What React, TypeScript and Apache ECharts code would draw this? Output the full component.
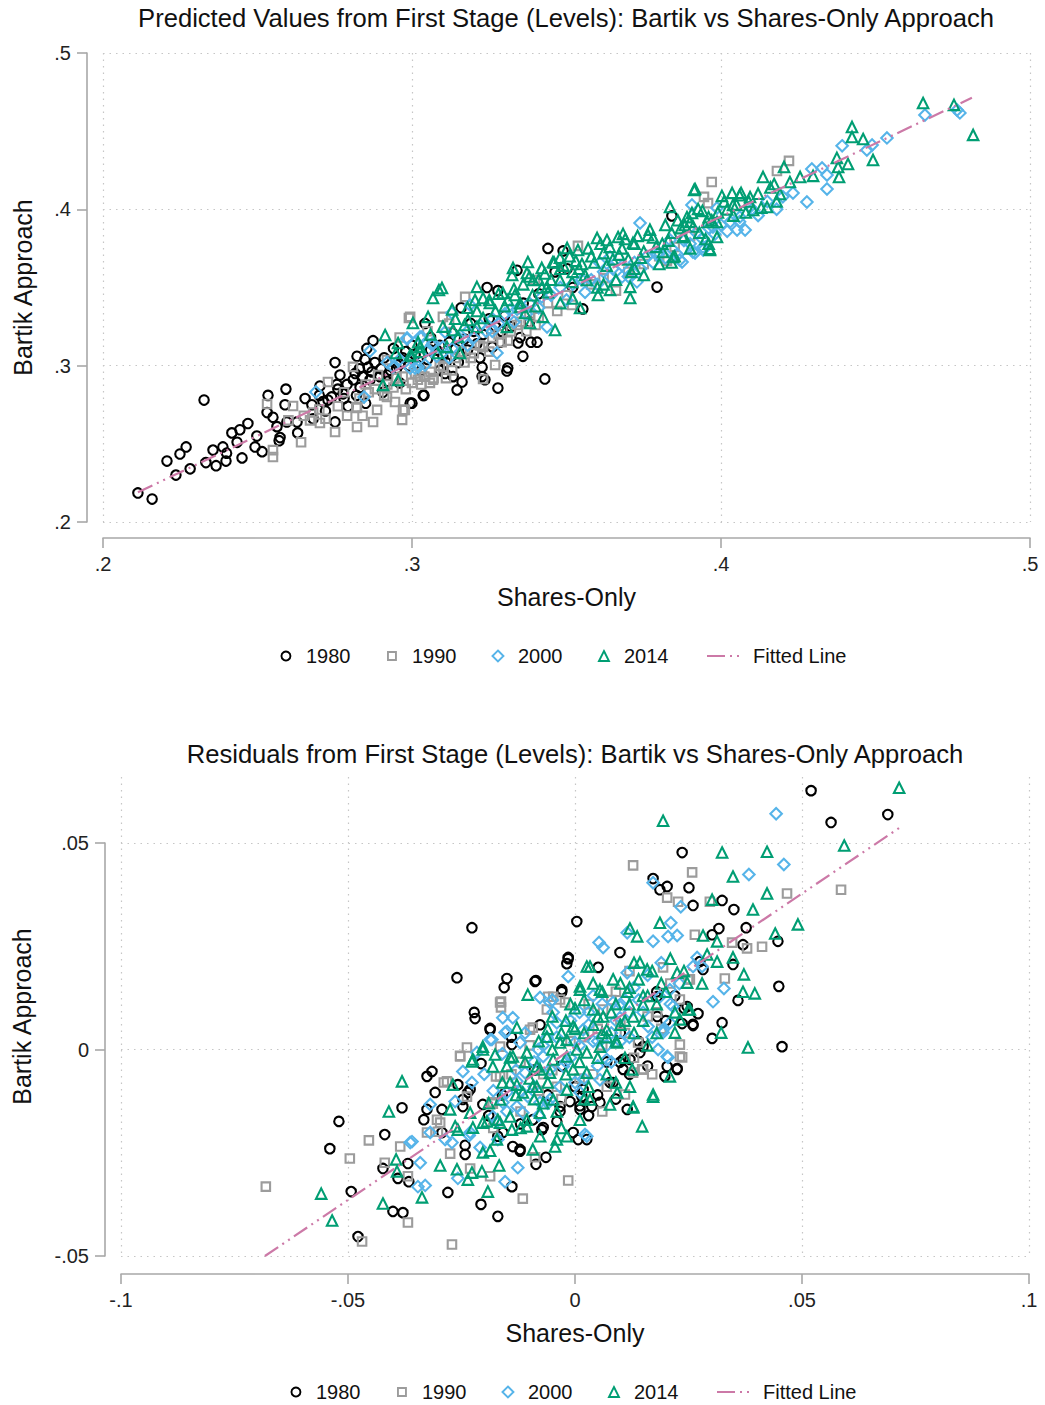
import React, { useEffect, useRef } from 'react';
import * as echarts from 'echarts';

const FONT = '"Liberation Sans", Arial, Helvetica, sans-serif';

// ---------- Top chart: predicted values (Shares-Only x, Bartik y) ----------
const top1980: number[][] = [
  [.2113,.2186],[.2159,.2147],[.2207,.239],[.2249,.2435],[.2269,.248],[.2236,.230],[.2282,.234],[.2327,.278],[.2333,.238],[.2366,.236],
  [.2356,.246],[.2388,.248],[.2398,.239],[.2417,.257],[.2434,.251],[.2443,.259],[.2469,.263],[.2492,.248],[.2515,.245],[.2498,.255],
  [.2534,.281],[.2531,.270],[.255,.267],[.2563,.261],[.2573,.254],[.2592,.285],[.2589,.275],[.2595,.264],[.2628,.264],[.2654,.279],
  [.2676,.275],[.2702,.287],[.2712,.277],[.2728,.278],[.2751,.302],[.2757,.288],[.2751,.264],[.2767,.294],[.2777,.282],[.2793,.274],
  [.2816,.295],[.2822,.306],[.2848,.304],[.2832,.286],[.2854,.311],[.2874,.316],[.2864,.291],[.2858,.299],[.2896,.293],[.2906,.283],
  [.2994,.276],[.3039,.281],[.3042,.327],[.344,.375],[.3489,.3734],[.334,.361],[.3463,.36],[.3502,.362],[.3243,.350],[.3278,.348],
  [.3159,.337],[.3285,.315],[.3343,.3145],[.3359,.306],[.3385,.315],[.3405,.315],[.335,.318],[.3227,.299],[.331,.2985],[.3307,.2966],
  [.3107,.295],[.3133,.293],[.3162,.2896],[.3146,.2845],[.3227,.293],[.3236,.291],[.3278,.2857],[.343,.2915],[.3793,.3503],[.3553,.3363],
  [.3841,.3958],[.322,.305],[.3036,.281],[.300,.276],[.288,.302],[.291,.305],[.293,.297],[.296,.301],[.298,.309],[.294,.311],
  [.283,.298],[.281,.291],[.302,.3],[.305,.304],[.308,.31],[.31,.306],[.312,.315],[.306,.318],[.3,.313],[.315,.302],
  [.318,.31],[.32,.322],[.325,.33],[.33,.332],[.327,.325],[.263,.257],[.268,.266],[.272,.271],[.278,.279],[.245,.241],
  [.24,.244],[.257,.252],[.292,.29],[.296,.289],[.309,.297],[.313,.321],[.319,.327],[.336,.34],[.341,.346],[.352,.35],
  [.284,.293],[.287,.296],[.29,.298],[.292,.294],[.295,.298],[.297,.305],[.299,.3],[.301,.307],[.303,.297],[.306,.31],
  [.309,.313],[.311,.302],[.314,.311],[.317,.317],[.321,.314],[.323,.32],[.326,.312],[.329,.322],[.332,.325],[.338,.328],
  [.276,.285],[.279,.288],[.282,.281],[.285,.276],[.27,.281],[.274,.28]
];
const top1990: number[][] = [
  [.2531,.2755],[.255,.246],[.255,.2416],[.2641,.251],[.2615,.2742],[.267,.265],[.2702,.2633],[.2751,.2576],[.2728,.2896],[.2809,.2992],
  [.2822,.2608],[.2822,.2736],[.2874,.264],[.2887,.2717],[.2919,.280],[.2945,.2768],[.2968,.2653],[.2977,.2717],[.299,.3305],[.2919,.3036],
  [.3058,.289],[.3026,.293],[.397,.4175],[.3945,.408],[.3958,.404],[.4181,.4245],[.422,.431],[.3537,.3766],[.3172,.344],[.2994,.3312],
  [.31,.3312],[.3518,.3388],[.3398,.3548],[.3269,.3004],[.323,.2915],[.2971,.2717],[.3019,.291],[.3068,.291],[.3825,.367],[.292,.288],
  [.295,.292],[.298,.285],[.301,.295],[.303,.288],[.306,.296],[.309,.3],[.311,.292],[.314,.305],[.317,.302],[.32,.308],
  [.323,.312],[.326,.318],[.329,.315],[.332,.322],[.335,.328],[.338,.333],[.34,.326],[.344,.34],[.347,.335],[.35,.345],
  [.286,.283],[.283,.279],[.289,.294],[.276,.274],[.279,.268],[.27,.272],[.265,.268],[.296,.318],[.358,.352],[.362,.356],
  [.366,.348],[.37,.36],[.375,.365],[.38,.37],[.385,.376],[.39,.383],[.305,.322],[.312,.327],[.285,.288],[.288,.285],
  [.291,.281],[.294,.286],[.297,.293],[.3,.289],[.304,.293],[.307,.292],[.31,.299],[.313,.297],[.316,.309],[.319,.305],
  [.322,.313],[.325,.309],[.328,.32],[.331,.316],[.334,.326],[.337,.322],[.341,.331],[.278,.283],[.282,.273],[.284,.268],
  [.272,.266],[.268,.27],[.26,.265]
];
const top2000: number[][] = [
  [.2864,.3094],[.2689,.2832],[.2845,.280],[.2939,.2992],[.2984,.317],[.2994,.2985],[.302,.2992],[.3042,.3004],[.3068,.3145],[.3032,.3184],
  [.2984,.3177],[.3026,.3184],[.301,.2985],[.3065,.3132],[.3129,.3337],[.3107,.3216],[.3188,.3388],[.3275,.3081],[.3317,.3356],[.3437,.3248],
  [.3608,.3657],[.3641,.3695],[.368,.3568],[.3728,.3536],[.3738,.3913],[.3793,.3715],[.3835,.3804],[.3867,.3676],[.3909,.3727],[.3942,.3759],
  [.3906,.4028],[.3974,.3887],[.3874,.3663],[.3916,.3721],[.3942,.374],[.4052,.3868],[.4078,.3868],[.4061,.3951],[.3987,.4009],[.4094,.4015],
  [.4233,.4105],[.4278,.4047],[.4343,.413],[.4294,.4258],[.4327,.4265],[.4343,.422],[.4392,.4406],[.4472,.438],[.4489,.4412],[.4537,.4457],
  [.466,.4604],[.4773,.4617],[.4764,.4636],[.305,.31],[.31,.312],[.315,.318],[.318,.322],[.322,.326],[.326,.33],[.33,.333],
  [.334,.336],[.338,.34],[.342,.344],[.345,.345],[.348,.35],[.352,.352],[.355,.355],[.358,.355],[.362,.36],[.365,.362],
  [.368,.364],[.372,.366],[.376,.37],[.38,.372],[.384,.375],[.388,.38],[.392,.385],[.396,.388],[.4,.39],[.403,.392],
  [.41,.4],[.415,.405],[.42,.408],[.308,.306],[.313,.311],[.32,.318],[.324,.322],[.328,.327],[.333,.328],[.337,.333],
  [.341,.337],[.35,.342],[.356,.347],[.36,.352],[.364,.357],[.37,.357],[.374,.362],[.378,.366],[.382,.369],[.386,.371],
  [.39,.378],[.394,.381],[.398,.384],[.402,.386],[.406,.392],[.412,.396],[.418,.4],[.30,.304],[.296,.304],[.292,.302],
  [.312,.305],[.318,.313],[.326,.322]
];
const top2014: number[][] = [
  [.4654,.468],[.4754,.4668],[.4816,.4476],[.4424,.4527],[.4424,.4463],[.446,.445],[.4492,.4316],[.4375,.4329],[.4411,.429],[.4379,.4271],
  [.4382,.4207],[.4298,.4214],[.4256,.4207],[.4204,.4271],[.4223,.4175],[.4136,.4207],[.4172,.4162],[.4191,.4098],[.4149,.4015],[.4104,.3996],
  [.4094,.4079],[.4065,.4105],[.4036,.4105],[.4003,.4086],[.3916,.413],[.3926,.4003],[.3906,.3977],[.3883,.390],[.3955,.3919],[.3987,.3919],
  [.3987,.3823],[.3964,.3747],[.3877,.3823],[.4039,.4028],[.3913,.4124],[.3835,.4015],[.3599,.3817],[.3631,.3804],[.3667,.3823],[.3683,.3843],
  [.3715,.3785],[.3764,.3836],[.3812,.3727],[.3845,.3695],[.3964,.374],[.3706,.3504],[.3641,.3485],[.3602,.3452],[.3706,.3433],[.3544,.3369],
  [.3502,.3753],[.3537,.374],[.3456,.3663],[.3479,.369],[.342,.3625],[.3375,.3663],[.3327,.3625],[.3324,.358],[.3372,.3593],[.3392,.3548],
  [.3437,.3504],[.3479,.3548],[.3518,.3536],[.3566,.3548],[.321,.3504],[.323,.3433],[.3294,.3465],[.3333,.3452],[.3097,.3497],[.3068,.3433],
  [.3204,.342],[.3252,.3401],[.3181,.3292],[.323,.3305],[.335,.3376],[.3366,.3337],[.3307,.3248],[.3382,.3273],[.3424,.3312],[.3463,.3228],
  [.3133,.3228],[.3149,.3184],[.3113,.312],[.3052,.3312],[.3003,.3273],[.2994,.3068],[.3026,.3088],[.3084,.3081],[.3155,.3081],[.321,.3248],
  [.3087,.3484],[.2913,.3196],[.2955,.3145],[.2948,.3081],[.3026,.312],[.2906,.2877],[.2955,.2908],[.300,.3062],[.355,.365],[.358,.37],
  [.362,.372],[.365,.368],[.368,.375],[.372,.378],[.375,.373],[.378,.382],[.381,.378],[.384,.385],[.387,.388],[.39,.392],
  [.393,.385],[.396,.395],[.399,.398],[.402,.4],[.405,.403],[.408,.398],[.356,.358],[.352,.36],[.348,.362],[.345,.355],
  [.342,.35],[.339,.345],[.335,.34],[.33,.338],[.327,.335],[.325,.342],[.318,.337],[.314,.33],[.31,.325],[.306,.32],
  [.302,.315],[.36,.35],[.366,.355],[.371,.36],[.375,.358],[.38,.365],[.385,.37],[.39,.375],[.331,.342],[.333,.349],
  [.336,.352],[.338,.357],[.341,.355],[.343,.359],[.346,.366],[.349,.364],[.351,.37],[.353,.367],[.354,.362],[.357,.375],
  [.359,.366],[.361,.378],[.363,.364],[.364,.376],[.367,.371],[.369,.381],[.37,.368],[.373,.383],[.374,.369],[.377,.387],
  [.379,.376],[.382,.39],[.383,.38],[.386,.393],[.388,.383],[.389,.395],[.391,.389],[.394,.399],[.395,.381],[.397,.393],
  [.401,.405],[.404,.396],[.406,.409],[.409,.405],[.412,.41],[.413,.401],[.416,.414],[.418,.405],[.321,.335],[.317,.326],
  [.313,.336],[.328,.346],[.344,.347],[.352,.343],[.362,.352],[.372,.362],[.384,.366],[.396,.378],[.34,.338],[.348,.34]
];
const topFitX = [0.2113, 0.4812];
const topFitY = [0.219, 0.4713];

// ---------- Bottom chart: residuals ----------
const res1980: number[][] = [
  [-.0227,.0295],[.0004,.031],[-.026,.0174],[-.015,.0172],[-.0156,.015],[-.0086,.0167],[-.0015,.022],[-.0018,.0208],[-.0029,.0145],[-.0222,.009],
  [-.022,.0075],[-.0187,.0051],[-.0139,.0012],[-.0077,.006],[-.0207,-.0034],[-.0326,-.0065],[-.0315,-.0053],[-.0308,-.0104],[-.0293,-.0145],[-.0381,-.0141],
  [-.0333,-.017],[-.052,-.0174],[-.054,-.024],[-.0419,-.0206],[-.0423,-.0288],[-.039,-.0312],[-.0366,-.032],[-.0368,-.0276],[-.0493,-.0344],[-.0401,-.0392],
  [-.0379,-.0395],[-.0478,-.0453],[-.028,-.0346],[-.0207,-.0375],[-.017,-.0404],[-.0139,-.0332],[-.0086,-.0278],[-.0064,-.0261],[-.0121,-.0246],[-.0242,-.0254],
  [-.0242,-.0232],[-.0247,-.0121],[-.0203,-.0133],[-.0258,-.0085],[-.0236,-.0104],[-.017,-.021],[-.0159,-.0201],[-.0137,-.0235],[-.0093,-.017],[-.0073,-.0194],
  [-.004,-.0174],[-.0033,-.0138],[-.0011,-.0126],[.0011,-.0136],[.0018,-.0097],[.0007,-.0218],[.0236,.0477],[.0172,.0414],[.0203,.0395],[.0187,.0387],
  [.0251,.0392],[.026,.0349],[.0324,.0361],[.035,.0339],[.0317,.0293],[.0377,.0295],[.0302,.0278],[.037,.0254],[.0447,.0262],[.0275,.0213],
  [.0282,.0194],[.0348,.0206],[-.0015,.0223],[.0051,.0199],[.0449,.0153],[.0359,.0119],[.0324,.0065],[.0271,.0087],[.026,.0058],[.0236,.0063],
  [.0302,.0027],[.0456,.0007],[.0225,-.0046],[.0198,-.0065],[.0181,.0128],[.0181,.008],[.015,.0007],[.0106,-.0024],[.0143,-.0007],[.0099,.0235],
  [.0115,-.0145],[.0077,-.008],[.0037,-.0138],[.0015,-.0114],[.0106,-.0048],[.052,.0627],[.0564,.055],[.0689,.0569],[-.0088,.0165],[-.0029,.014],
  [-.0187,.0048],[.0099,-.0031],[.0121,-.0024],[.0084,-.008],[.0055,-.0128],[.0011,-.0145],[-.0033,-.015],[-.0004,-.0201],[.0026,-.0218],[-.007,-.0189],
  [-.0121,-.0242],[-.0231,-.0097],[-.0247,-.0138],[-.0326,-.0145],[-.0293,-.0201],[.0203,-.0041],[.0225,-.0048],[.026,.0061],[.0247,.0104],
  [-.016,-.011],[-.012,-.018],[-.009,-.005],[-.006,-.011],[-.003,-.004],[0,-.009],[.003,-.016],[.005,-.011],[.007,-.003],[.009,-.012],
  [.012,-.006],[.014,.002],[.016,-.004],[.018,.014],[.02,.007],[.022,.013],[-.019,-.016],[-.014,.003],[.01,.004],[.024,.01]
];
const res1990: number[][] = [
  [-.0681,-.0332],[-.0496,-.0264],[-.0454,-.022],[-.0469,-.0465],[-.0419,-.0274],[-.0385,-.0235],[-.0368,-.0419],[-.0271,-.0472],[-.0368,-.0307],[-.0302,-.0199],
  [-.0275,-.0252],[-.0289,-.008],[-.0297,-.0177],[-.0253,-.0015],[-.0238,.0005],[-.0163,.0116],[-.0163,.0102],[-.0165,.0007],[-.0115,-.0361],[-.0015,-.0317],
  [-.0088,-.0261],[-.0187,-.0307],[-.0231,-.0288],[-.0238,-.0114],[-.0181,-.0131],[-.0174,-.0065],[-.0059,.0128],[-.0062,.0097],[-.0099,.0048],[.0128,.0446],
  [.0258,.0429],[.0467,.0378],[.0586,.0387],[.0203,.0368],[.0227,.0358],[.0297,.0358],[.0264,.0278],[.0346,.0259],[.0379,.0245],[.0412,.0249],
  [.033,.0172],[.0249,.017],[.0231,.0121],[.0231,.0012],[.0236,-.0019],[.0148,-.0048],[.0139,.0017],[.0062,.0097],[.011,-.0109],[-.0022,.0114],
  [-.0165,.0114],[-.0048,.0128],[-.0033,.0121],[-.0253,-.0017],[-.0165,-.0065],[-.0282,-.0077],[-.0304,-.017],[-.0183,-.0128],[-.0326,-.0201],[-.0093,.0053],
  [.0194,.0199],[.0253,.017],[.0231,-.0017],[.015,-.0048],[.0128,-.0056],[.0181,.009],[-.005,-.005],[.002,.003],[.006,.001],[-.008,-.01],
  [.004,-.006],[.01,.006],[-.012,-.003],[.008,.012],[-.003,-.012],[-.014,-.006],[-.01,.001],[-.007,-.006],[-.004,-.009],[-.001,.002],
  [.001,-.007],[.003,.011],[.005,.005],[.007,-.009],[.009,.014],[.011,.004],[.013,-.002],[.016,.008],[.019,.005],[.021,.016],
  [-.018,-.019],[-.012,-.015],[.006,-.015],[.012,.019],[.017,-.006]
];
const res2000: number[][] = [
  [-.0015,.0177],[-.0077,.0126],[-.0159,.0077],[-.0137,.0077],[-.0154,.0041],[-.0187,.0024],[-.0216,-.0007],[-.0247,-.0053],[-.0319,-.0133],[-.0264,-.0126],
  [-.0359,-.0223],[-.0341,-.0274],[-.0346,-.0332],[-.033,-.0329],[-.0319,-.0201],[-.0286,-.0218],[-.0271,-.0225],[-.0258,-.0312],[-.0233,-.0208],[-.0209,-.0237],
  [-.017,-.0218],[-.0154,-.032],[-.0126,-.0286],[-.0172,-.0174],[-.0159,-.0128],[-.0115,-.0153],[-.0104,-.0114],[-.0055,-.0121],[.0022,-.0206],[0,.0017],
  [.0018,.0048],[-.0081,0],[-.0062,.0029],[-.0048,.009],[-.011,-.0056],[-.0128,-.0077],[-.015,-.0104],[-.0026,-.0041],[.046,.0448],[.0383,.0424],
  [.0172,.0404],[.0233,.0346],[.0211,.0307],[.0115,.0283],[.0053,.0259],[.0062,.0247],[.0172,.0262],[.0205,.0274],[.0225,.0276],[.0269,.0223],
  [.028,.0201],[.0328,.0148],[.0304,.0116],[.0209,.0145],[.0216,.0104],[.0183,0],[.0205,-.0019],[.0194,.0041],[.0209,.0065],[.0161,.0056],
  [.0099,.0077],[.0443,.0571],[-.0055,.0114],[-.015,.0044],[-.0183,.0024],[-.0227,-.008],[-.0121,.0017],[-.004,.0065],[-.007,-.0017],[.0084,.0114],
  [.0115,.0186],[.0187,.0128],[.0194,.0048],[.0203,-.0017],[.026,.0201],[.007,-.0024],[.0055,-.0073],[.0011,-.0104],[-.0033,-.009],[-.0055,-.0048],
  [-.0128,-.0138],[-.0077,-.0128],[-.0181,-.0162],[-.0231,-.0201],[-.0363,-.0225],[.0026,-.021],[.003,.006],[.005,.002],[-.001,-.002],[.008,.004],
  [.012,.009],[.014,.012],[.01,.002],[-.009,-.003],[.001,.009],[.004,.013],[-.018,-.01],[-.015,-.015],[-.013,-.005],[-.011,.004],
  [-.009,-.009],[-.007,.001],[-.006,-.013],[-.004,.003],[-.002,-.003],[-.001,.007],[.001,.001],[.002,-.007],[.003,.009],[.005,-.004],
  [.006,.011],[.007,.001],[.009,.007],[.011,.012],[.012,.003],[.013,.015],[.015,.009],[.016,.018],[.017,.003],[.019,.021],
  [.021,.011],[.023,.016],[-.02,-.006],[-.016,-.001],[-.012,-.01],[-.008,-.016],[-.005,.012],[0,-.008],[.004,.002],[.008,-.003],
  [.01,.011]
];
const res2014: number[][] = [
  [-.0381,-.0077],[-.041,-.015],[-.0559,-.0349],[-.0535,-.0414],[-.0423,-.0373],[-.0394,-.0266],[-.0392,-.0295],[-.0337,-.0358],[-.0297,-.0281],[-.026,-.029],
  [-.0236,-.0315],[-.0227,-.0298],[-.0205,-.0295],[-.0192,-.0344],[-.0167,-.0281],[-.0187,-.0245],[-.0269,-.0085],[-.0275,-.0145],[-.0258,-.0194],[-.0231,-.0153],
  [-.0194,-.0174],[-.0139,-.0194],[-.0106,-.017],[-.0077,-.021],[-.0044,-.0235],[-.0018,-.021],[-.0227,-.0029],[-.0203,.0007],[-.0176,-.0012],[-.0128,.0053],
  [-.0104,.0133],[-.0128,-.0085],[-.0143,-.0019],[-.0084,-.0041],[-.0084,-.009],[-.0055,-.0056],[-.0018,.0024],[.0004,0],[.0011,.0145],[.0026,.0201],
  [.0324,.0477],[.0423,.0479],[.0593,.0494],[.0348,.0419],[.0423,.0378],[.0392,.0339],[.0302,.0363],[.0491,.0303],[.0441,.0281],[.0282,.0276],
  [.0313,.0262],[.0187,.0307],[.0121,.0293],[.0137,.0274],[.0291,.023],[.0313,.0213],[.0348,.0223],[.0372,.0182],[.028,.016],[.037,.014],
  [.0396,.0136],[.0249,.0097],[.022,.0041],[.0322,.0041],[.0381,.0005],[.0209,-.0065],[.0172,-.0114],[.0126,-.0048],[.0077,-.0133],[.0128,-.014],
  [.0148,-.0186],[.0194,.0554],[.0714,.0634],[.0033,.0201],[.0011,.0153],[.0055,.0145],[.0084,.017],[.0115,.014],[.0143,.0211],[.0159,.0194],
  [.0225,.0186],[.0247,.0162],[.0231,.0073],[.0253,.0097],[.015,.0109],[.0128,.008],[.0062,.008],[.004,.0097],[-.0004,.0056],[-.0033,.0017],
  [-.0018,-.0017],[.0026,-.0007],[.0055,.0007],[.007,.0048],[.0093,.0017],[.0026,-.0056],[-.0004,-.0048],[-.0048,-.0024],[-.0077,-.0048],[-.0093,-.009],
  [-.0115,-.0104],[-.0143,-.008],[-.0165,-.0121],[-.0181,-.0041],[-.0137,-.0017],[-.0106,-.0007],[-.0062,.0031],[-.0203,0],[-.0225,-.0024],[-.0143,-.0162],
  [-.0106,-.0186],[-.0077,-.0153],[-.0048,-.0121],[-.0018,-.0097],[.0011,-.017],[.0033,-.0121],[.0093,-.0104],[.0121,-.009],[.0172,-.0109],[.0128,-.0138],
  [-.0203,-.0177],[-.0225,-.0189],[-.0165,-.0177],[-.0172,-.0218],[-.0203,-.0249],[-.0093,-.0242],[-.004,-.0218],[-.0264,-.0186],[.002,.004],[.005,.008],
  [.009,.011],[.012,.015],[-.002,.007],[0,.01],[.007,.003],[.01,.006],[.016,.013],[.019,.016],[-.006,.005],[-.016,-.008],
  [-.013,-.011],[-.011,-.003],[-.009,-.012],[-.008,.002],[-.006,-.008],[-.005,0],[-.004,-.015],[-.003,.004],[-.002,-.006],[-.001,.011],
  [.001,-.003],[.002,.012],[.003,-.009],[.004,.006],[.005,-.002],[.006,.014],[.007,-.006],[.008,.009],[.009,.002],[.01,.016],
  [.011,-.002],[.012,.011],[.013,.004],[.014,.017],[.015,.007],[.016,.001],[.017,.019],[.018,.011],[.02,.014],[.021,.022],
  [.022,.009],[.024,.019],[-.019,-.013],[-.017,-.017],[-.015,-.004],[-.012,-.019],[-.01,-.007],[-.007,-.013],[-.005,.008],[-.003,-.019],
  [0,.005],[.002,-.012],[.004,.016],[.006,.004],[.009,-.008],[.011,.007],[.013,.021],[.015,.013],[.018,.004]
];
const resFitX = [-0.0683, 0.0716];
const resFitY = [-0.05, 0.0538];

const yearNames = ['1980', '1990', '2000', '2014'];
const fitName = 'Fitted Line';

const COLORS = ['#000000', '#9c9c9c', '#56b4e9', '#009e73'];
const SYMBOLS = ['circle', 'rect', 'diamond', 'triangle'];
const SIZES = [9.5, 8.5, 11.5, 10.5];
const LEGEND_SIZES = [9, 8, 11, 10];
const FIT_COLOR = '#cc79a7';
const FIT_DASH = [16, 5, 2, 5, 2, 5];

const fmt = (v: number) => {
  const r = Math.round(v * 1000) / 1000;
  if (r === 0) return '0';
  return String(r).replace('0.', '.');
};

const AXIS_COLOR = '#a8a8a8';
const GRID_LINE = { show: true, lineStyle: { color: '#c6c6c6', width: 1.2, type: [1.5, 5] } };
const axisLine = { show: true, onZero: false, lineStyle: { color: AXIS_COLOR, width: 1.6 } };
const axisTick = { show: true, length: 10, lineStyle: { color: AXIS_COLOR, width: 1.6 } };
const axisLabel = (margin: number) => ({ fontSize: 20, color: '#222', margin, fontFamily: FONT, formatter: fmt });
const nameStyle = { fontSize: 25, color: '#111', fontFamily: FONT };

function scatter(name: string, i: number, data: number[][], axis: number) {
  return {
    type: 'scatter',
    name,
    data,
    xAxisIndex: axis,
    yAxisIndex: axis,
    symbol: SYMBOLS[i],
    symbolSize: SIZES[i],
    silent: true,
    itemStyle: { color: 'rgba(0,0,0,0)', borderColor: COLORS[i], borderWidth: 2.1, opacity: 1 },
    emphasis: { disabled: true },
  };
}

function fit(xs: number[], ys: number[], axis: number) {
  return {
    type: 'line',
    name: fitName,
    data: xs.map((x, i) => [x, ys[i]]),
    xAxisIndex: axis,
    yAxisIndex: axis,
    symbol: 'none',
    showSymbol: false,
    silent: true,
    z: 5,
    lineStyle: { color: FIT_COLOR, width: 2.2, type: FIT_DASH },
    itemStyle: { color: FIT_COLOR },
  };
}

function legends(top: number, left1: number, left2: number) {
  const items = yearNames.map((n, i) => ({
    top, left: left1 + i * 106 + (12 - LEGEND_SIZES[i]) / 2, padding: 0,
    itemWidth: LEGEND_SIZES[i], itemHeight: LEGEND_SIZES[i],
    textStyle: { fontSize: 20, color: '#111', fontFamily: FONT, padding: [0, 0, 0, 9 + (12 - LEGEND_SIZES[i]) / 2] },
    selectedMode: false,
    data: [{
      name: n, icon: SYMBOLS[i],
      itemStyle: { color: 'rgba(0,0,0,0)', borderColor: COLORS[i], borderWidth: 1.9 },
    }],
  }));
  return [
    ...items,
    {
      top, left: left2, padding: 0,
      itemWidth: 34, itemHeight: 11,
      textStyle: { fontSize: 20, color: '#111', fontFamily: FONT, padding: [0, 0, 0, 7] },
      selectedMode: false,
      data: [{
        name: fitName,
        lineStyle: { color: FIT_COLOR, width: 2, type: [18, 5, 2, 5, 2, 5] },
        itemStyle: { color: 'rgba(0,0,0,0)', borderWidth: 0, opacity: 0 },
      }],
    },
  ];
}

export default function App() {
  const ref = useRef<HTMLDivElement>(null);
  useEffect(() => {
    if (!ref.current) return;
    const chart = echarts.init(ref.current, null, { renderer: 'svg' });
    const option: any = {
      animation: false,
      backgroundColor: '#ffffff',
      textStyle: { fontFamily: FONT },
      title: [
        {
          text: 'Predicted Values from First Stage (Levels): Bartik vs Shares-Only Approach',
          left: 566, top: 5, padding: 0, textAlign: 'center',
          textStyle: { fontSize: 25.6, fontWeight: 'normal', color: '#111', fontFamily: FONT },
        },
        {
          text: 'Residuals from First Stage (Levels): Bartik vs Shares-Only Approach',
          left: 575, top: 741, padding: 0, textAlign: 'center',
          textStyle: { fontSize: 25.6, fontWeight: 'normal', color: '#111', fontFamily: FONT },
        },
      ],
      legend: [...legends(646, 279, 706), ...legends(1382, 289, 716)],
      grid: [
        { left: 103, right: 15, top: 53, bottom: 883 },
        { left: 121, right: 16, top: 777, bottom: 149 },
        { left: 121, right: 16, top: 843, bottom: 149 },
      ],
      xAxis: [
        {
          gridIndex: 0, type: 'value', min: 0.2, max: 0.5, interval: 0.1, offset: 16,
          name: 'Shares-Only', nameLocation: 'middle', nameGap: 46, nameTextStyle: nameStyle,
          axisLine, axisTick, axisLabel: axisLabel(16), splitLine: GRID_LINE,
        },
        {
          gridIndex: 1, type: 'value', min: -0.1, max: 0.1, interval: 0.05, offset: 18,
          name: 'Shares-Only', nameLocation: 'middle', nameGap: 46, nameTextStyle: nameStyle,
          axisLine, axisTick, axisLabel: axisLabel(16), splitLine: GRID_LINE,
        },
        { gridIndex: 2, type: 'value', min: -0.1, max: 0.1, show: false },
      ],
      yAxis: [
        {
          gridIndex: 0, type: 'value', min: 0.2, max: 0.5, interval: 0.1, offset: 16,
          name: 'Bartik Approach', nameLocation: 'middle', nameGap: 52, nameTextStyle: nameStyle,
          axisLine, axisTick, axisLabel: axisLabel(16), splitLine: GRID_LINE,
        },
        {
          gridIndex: 1, type: 'value', min: -0.05, max: 0.066, offset: 16,
          name: 'Bartik Approach', nameLocation: 'middle', nameGap: 71, nameTextStyle: nameStyle,
          axisLine: { show: false }, axisTick: { show: false }, axisLabel: { show: false }, splitLine: { show: false },
        },
        {
          gridIndex: 2, type: 'value', min: -0.05, max: 0.05, interval: 0.05, offset: 16,
          axisLine, axisTick, axisLabel: axisLabel(16), splitLine: GRID_LINE,
        },
      ],
      series: [
        scatter('1980', 0, top1980, 0),
        scatter('1990', 1, top1990, 0),
        scatter('2000', 2, top2000, 0),
        scatter('2014', 3, top2014, 0),
        fit(topFitX, topFitY, 0),
        scatter('1980', 0, res1980, 1),
        scatter('1990', 1, res1990, 1),
        scatter('2000', 2, res2000, 1),
        scatter('2014', 3, res2014, 1),
        fit(resFitX, resFitY, 1),
      ],
    };
    chart.setOption(option);
    return () => chart.dispose();
  }, []);
  return (
    <div
      ref={ref}
      style={{ position: 'absolute', left: 0, top: 0, width: 1045, height: 1405, background: '#fff' }}
    />
  );
}
